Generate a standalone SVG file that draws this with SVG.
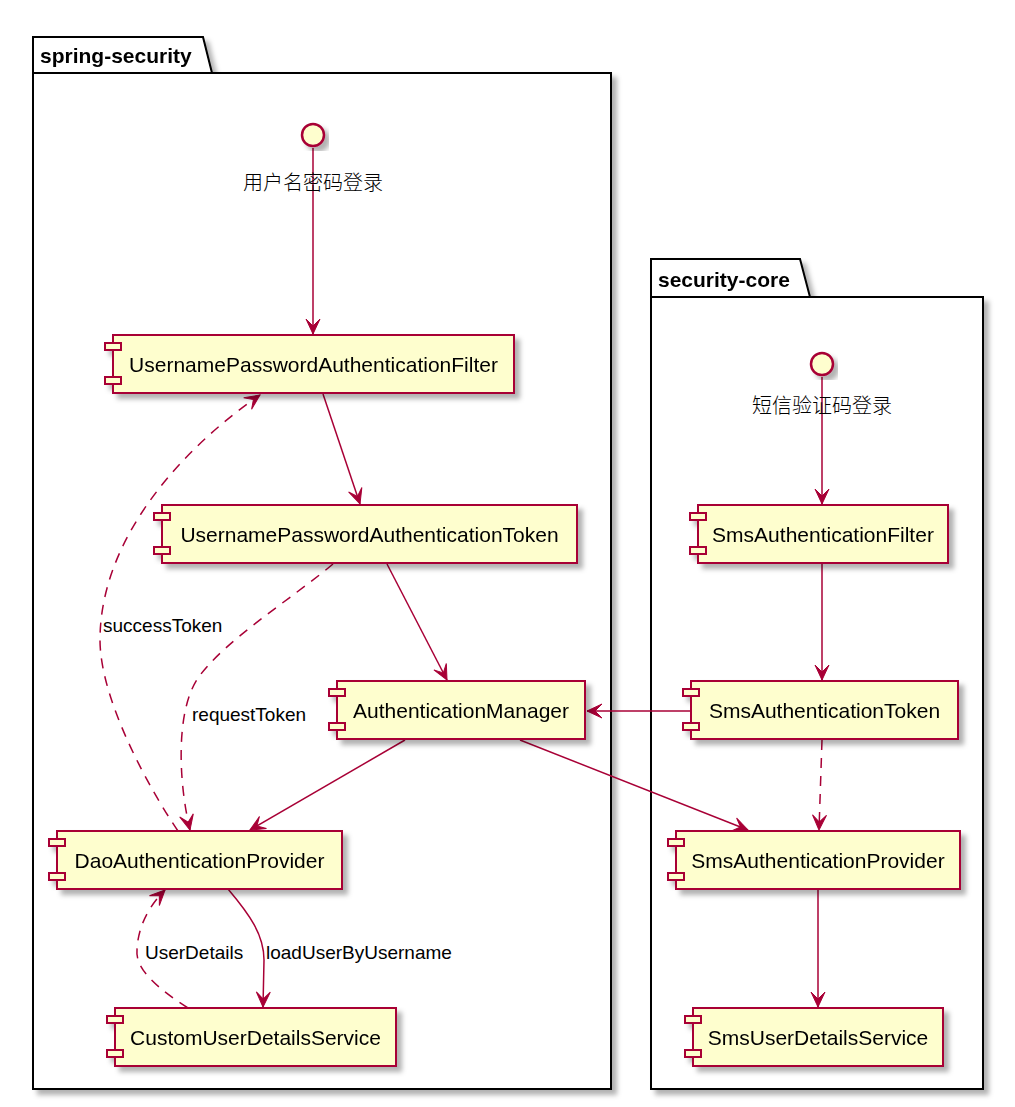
<svg xmlns="http://www.w3.org/2000/svg" width="1015" height="1107" viewBox="0 0 1015 1107">
<style>
.pkg{fill:#FFFFFF;stroke:#000000;stroke-width:2}
.ptitle{font-family:"Liberation Sans",Arial,sans-serif;font-weight:bold;font-size:21px;fill:#000}
.comp{fill:#FEFECE;stroke:#A80036;stroke-width:2}
.ctext{font-family:"Liberation Sans",Arial,sans-serif;font-size:21px;fill:#000;text-anchor:middle}
.ltext{font-family:"Liberation Sans",Arial,sans-serif;font-size:19px;fill:#000}
.itext{font-family:"Noto Sans CJK SC","Liberation Sans",sans-serif;font-size:20px;font-weight:300;fill:#000;text-anchor:middle}
.edge{fill:none;stroke:#A80036;stroke-width:1.5;marker-end:url(#arr)}
.dash{stroke-dasharray:10,8}
</style>
<defs>
<filter id="sh" x="-10%" y="-10%" width="130%" height="130%">
<feDropShadow dx="5" dy="5" stdDeviation="2.5" flood-color="#000" flood-opacity="0.3"/>
</filter>
<marker id="arr" markerUnits="userSpaceOnUse" viewBox="-17 -9 19 18" markerWidth="19" markerHeight="18" refX="0" refY="0" orient="auto">
<path d="M0,0 L-15,-7 L-8,0 L-15,7 Z" fill="#A80036" stroke="#A80036" stroke-width="1"/>
</marker>
</defs>
<rect width="1015" height="1107" fill="#FFFFFF"/>

<g id="pkg-spring-security" filter="url(#sh)">
<path class="pkg" d="M33,73 L33,37 L203,37 L212,73 Z"/>
<rect class="pkg" x="33" y="73" width="578" height="1016"/>
<text class="ptitle" x="40" y="63">spring-security</text>
</g>
<g id="pkg-security-core" filter="url(#sh)">
<path class="pkg" d="M651,297 L651,259 L800,259 L810,297 Z"/>
<rect class="pkg" x="651" y="297" width="332" height="792"/>
<text class="ptitle" x="658" y="287">security-core</text>
</g>

<g id="connectors">
<path class="edge" d="M313,148 L313,334"/>
<path class="edge" d="M323,394 L360,504"/>
<path class="edge" d="M387,564 L447,680"/>
<path class="edge dash" d="M333,564 C290,600 225,640 198,678 C176,710 178,780 190,830"/>
<text class="ltext" x="192" y="721">requestToken</text>
<path class="edge dash" d="M178,831 C150,790 100,700 100,640 C100,540 180,450 260,395"/>
<text class="ltext" x="103" y="632">successToken</text>
<path class="edge" d="M405,740 L250,830"/>
<path class="edge" d="M520,740 L748,830"/>
<path class="edge" d="M691,711 L587,711"/>
<path class="edge dash" d="M822,740 L819,830"/>
<path class="edge" d="M822,377 L822,504"/>
<path class="edge" d="M822,564 L822,680"/>
<path class="edge" d="M818,889 L818,1007"/>
<path class="edge" d="M228,889 C250,915 264,935 264,960 L263,1007"/>
<text class="ltext" x="266" y="959">loadUserByUsername</text>
<path class="edge dash" d="M188,1008 C160,990 135,970 137,950 C138,925 150,905 165,890"/>
<text class="ltext" x="145" y="959">UserDetails</text>
</g>

<g id="if-userpass">
<circle cx="313" cy="135" r="11" fill="#FEFECE" stroke="#A80036" stroke-width="2.5" filter="url(#sh)"/>
<text class="itext" x="313" y="190">用户名密码登录</text>
</g>
<g id="if-sms">
<circle cx="822" cy="364" r="11" fill="#FEFECE" stroke="#A80036" stroke-width="2.5" filter="url(#sh)"/>
<text class="itext" x="822" y="413">短信验证码登录</text>
</g>

<g id="c-upafilter" filter="url(#sh)">
<rect class="comp" x="113" y="335" width="401" height="58"/>
<rect class="comp" x="105" y="343" width="16" height="7"/>
<rect class="comp" x="105" y="377" width="16" height="7"/>
<text class="ctext" x="313.5" y="372">UsernamePasswordAuthenticationFilter</text>
</g>
<g id="c-upatoken" filter="url(#sh)">
<rect class="comp" x="162" y="505" width="415" height="58"/>
<rect class="comp" x="154" y="513" width="16" height="7"/>
<rect class="comp" x="154" y="547" width="16" height="7"/>
<text class="ctext" x="369.5" y="542">UsernamePasswordAuthenticationToken</text>
</g>
<g id="c-authmanager" filter="url(#sh)">
<rect class="comp" x="337" y="681" width="248" height="58"/>
<rect class="comp" x="329" y="689" width="16" height="7"/>
<rect class="comp" x="329" y="723" width="16" height="7"/>
<text class="ctext" x="461" y="718">AuthenticationManager</text>
</g>
<g id="c-daoprovider" filter="url(#sh)">
<rect class="comp" x="57" y="831" width="285" height="58"/>
<rect class="comp" x="49" y="839" width="16" height="7"/>
<rect class="comp" x="49" y="873" width="16" height="7"/>
<text class="ctext" x="199.5" y="868">DaoAuthenticationProvider</text>
</g>
<g id="c-customuds" filter="url(#sh)">
<rect class="comp" x="115" y="1008" width="281" height="58"/>
<rect class="comp" x="107" y="1016" width="16" height="7"/>
<rect class="comp" x="107" y="1050" width="16" height="7"/>
<text class="ctext" x="255.5" y="1045">CustomUserDetailsService</text>
</g>
<g id="c-smsfilter" filter="url(#sh)">
<rect class="comp" x="698" y="505" width="250" height="58"/>
<rect class="comp" x="690" y="513" width="16" height="7"/>
<rect class="comp" x="690" y="547" width="16" height="7"/>
<text class="ctext" x="823" y="542">SmsAuthenticationFilter</text>
</g>
<g id="c-smstoken" filter="url(#sh)">
<rect class="comp" x="691" y="681" width="267" height="58"/>
<rect class="comp" x="683" y="689" width="16" height="7"/>
<rect class="comp" x="683" y="723" width="16" height="7"/>
<text class="ctext" x="824.5" y="718">SmsAuthenticationToken</text>
</g>
<g id="c-smsprovider" filter="url(#sh)">
<rect class="comp" x="676" y="831" width="284" height="58"/>
<rect class="comp" x="668" y="839" width="16" height="7"/>
<rect class="comp" x="668" y="873" width="16" height="7"/>
<text class="ctext" x="818" y="868">SmsAuthenticationProvider</text>
</g>
<g id="c-smsuds" filter="url(#sh)">
<rect class="comp" x="693" y="1008" width="250" height="58"/>
<rect class="comp" x="685" y="1016" width="16" height="7"/>
<rect class="comp" x="685" y="1050" width="16" height="7"/>
<text class="ctext" x="818" y="1045">SmsUserDetailsService</text>
</g>
</svg>
